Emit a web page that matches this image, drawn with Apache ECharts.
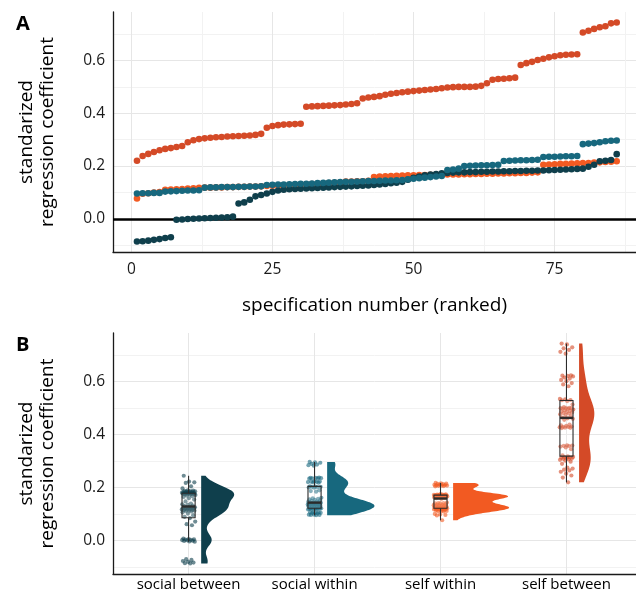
<!DOCTYPE html>
<html><head><meta charset="utf-8">
<script src="https://cdn.jsdelivr.net/npm/echarts@6/dist/echarts.min.js"></script>
<style>html,body{margin:0;padding:0;background:#fff}#c{width:636px;height:597px}</style>
</head><body><div id="c"></div>
<script>
// ---------- data ----------
const groupNames = ['social between', 'social within', 'self within', 'self between'];
const groupColors = ['#0f3f4c', '#17687e', '#f25a22', '#d44a27'];

const socialBetween = [
  -0.086, -0.085, -0.083, -0.080, -0.077, -0.073, -0.070,
  -0.004, -0.003, -0.001, 0.000, 0.001, 0.002, 0.003, 0.004, 0.005, 0.006, 0.008,
  0.058, 0.062,
  0.072, 0.085, 0.090, 0.096, 0.102, 0.107, 0.110,
  0.112, 0.113, 0.114, 0.115, 0.116, 0.117, 0.118, 0.119, 0.120, 0.121, 0.122, 0.123, 0.124,
  0.125, 0.126, 0.128, 0.130, 0.132, 0.135, 0.137, 0.140,
  0.148, 0.155, 0.160, 0.165, 0.168, 0.170, 0.172, 0.174, 0.175, 0.176,
  0.176, 0.177, 0.177, 0.178, 0.178, 0.179, 0.179, 0.180, 0.180, 0.181, 0.181, 0.182, 0.182,
  0.183, 0.183, 0.184, 0.185, 0.186, 0.187, 0.188, 0.189, 0.190,
  0.197, 0.205, 0.218, 0.220, 0.223, 0.245
];
const socialWithin = [
  0.096, 0.097, 0.097, 0.098, 0.098,
  0.103, 0.104, 0.105, 0.106, 0.107, 0.107, 0.108,
  0.118, 0.119, 0.119, 0.120, 0.120, 0.120, 0.121, 0.121, 0.122, 0.122, 0.123,
  0.128, 0.129, 0.130, 0.130, 0.131, 0.132, 0.133, 0.133, 0.134, 0.135, 0.136, 0.137, 0.138, 0.139, 0.140, 0.140, 0.141,
  0.142, 0.143, 0.143, 0.144, 0.145, 0.145, 0.146, 0.147,
  0.150, 0.152, 0.154, 0.156, 0.158, 0.160, 0.162,
  0.185, 0.187, 0.190,
  0.200, 0.201, 0.202, 0.203, 0.203, 0.204, 0.205,
  0.219, 0.220, 0.221, 0.222, 0.222, 0.223, 0.224,
  0.234, 0.235, 0.235, 0.236, 0.237, 0.237, 0.238,
  0.283, 0.285, 0.287, 0.290, 0.294, 0.296, 0.297
];
const selfWithin = [
  0.077,
  0.095, 0.097, 0.099, 0.101,
  0.110, 0.111, 0.112, 0.113, 0.115, 0.116, 0.117,
  0.118, 0.118, 0.119, 0.119, 0.120, 0.120, 0.121, 0.121, 0.122, 0.122, 0.123,
  0.124, 0.125, 0.126, 0.127, 0.128, 0.129, 0.130, 0.131, 0.132, 0.133, 0.134, 0.135, 0.136, 0.137,
  0.141,
  0.141, 0.142, 0.142,
  0.144,
  0.158, 0.160, 0.161, 0.162, 0.163, 0.164, 0.165, 0.165, 0.166, 0.166, 0.167,
  0.167, 0.167, 0.168, 0.168, 0.168, 0.169, 0.169, 0.170, 0.170, 0.171, 0.171, 0.172, 0.172,
  0.173, 0.173, 0.174, 0.174, 0.175, 0.176,
  0.205, 0.206, 0.207, 0.208, 0.208, 0.209, 0.210, 0.211, 0.211,
  0.213, 0.214, 0.215, 0.216, 0.218
];
const selfBetween = [
  0.220, 0.238, 0.246, 0.253, 0.260, 0.265, 0.268, 0.272, 0.276, 0.290,
  0.298, 0.302, 0.305, 0.307, 0.309, 0.310, 0.312, 0.313, 0.314, 0.315,
  0.316, 0.318, 0.322, 0.345, 0.352, 0.355, 0.357, 0.358, 0.359, 0.360,
  0.425, 0.426, 0.427, 0.428, 0.429, 0.430, 0.431, 0.433, 0.435, 0.438,
  0.456, 0.460, 0.462, 0.465, 0.470, 0.474, 0.477, 0.480, 0.482, 0.484,
  0.486, 0.488, 0.490, 0.492, 0.495, 0.498, 0.499, 0.500, 0.500, 0.500,
  0.501, 0.504, 0.514, 0.527, 0.530, 0.531, 0.533, 0.535, 0.583, 0.590,
  0.595, 0.602, 0.607, 0.612, 0.616, 0.620, 0.622, 0.623, 0.624, 0.706,
  0.713, 0.720, 0.726, 0.730, 0.741, 0.744
];
const groupData = [socialBetween, socialWithin, selfWithin, selfBetween];

const yLabelValues = [0, 0.2, 0.4, 0.6];
const yGridValues = [-0.1, 0, 0.1, 0.2, 0.3, 0.4, 0.5, 0.6, 0.7];
const xLabelValues = [0, 25, 50, 75];
const xGridValues = [0, 12.5, 25, 37.5, 50, 62.5, 75, 87.5];
const catValues = [1, 2, 3, 4];

// ---------- helpers ----------
const FONT = '"Open Sans", "Noto Sans", sans-serif';
function quantile(s, p) {
  const h = (s.length - 1) * p, lo = Math.floor(h), hi = Math.min(lo + 1, s.length - 1);
  return s[lo] + (h - lo) * (s[hi] - s[lo]);
}
function stats(vals) {
  const s = vals.slice().sort((a, b) => a - b);
  const q1 = quantile(s, 0.25), med = quantile(s, 0.5), q3 = quantile(s, 0.75);
  const iqr = q3 - q1;
  const lo = s.filter(v => v >= q1 - 1.5 * iqr)[0];
  const hiArr = s.filter(v => v <= q3 + 1.5 * iqr);
  const hi = hiArr[hiArr.length - 1];
  const n = s.length, mean = s.reduce((a, b) => a + b, 0) / n;
  const sd = Math.sqrt(s.reduce((a, b) => a + (b - mean) * (b - mean), 0) / (n - 1));
  const bw = 0.9 * Math.min(sd, iqr / 1.34) * Math.pow(n, -0.2);
  const min = s[0], max = s[n - 1];
  const dens = [];
  const steps = 120;
  for (let k = 0; k <= steps; k++) {
    const y = min + (max - min) * k / steps;
    let d = 0;
    for (const v of s) { const z = (y - v) / bw; d += Math.exp(-0.5 * z * z); }
    d = d / (n * bw * Math.sqrt(2 * Math.PI));
    dens.push([y, d]);
  }
  return { q1, med, q3, lo, hi, min, max, dens };
}
const groupStats = groupData.map(stats);
const maxDens = Math.max(...groupStats.map(st => Math.max(...st.dens.map(d => d[1]))));
const VIOLIN_W = 0.445, VIOLIN_OFF = 0.1, BOX_HW = 0.052, JIT = 0.11;
function jitter(i) { return (((i + 1) * 0.6180339887) % 1 - 0.5) * JIT; }

// ---------- series ----------
const series = [];
const drawOrder = [2, 0, 1, 3];
drawOrder.forEach((g, k) => {
  const s = {
    type: 'scatter', xAxisIndex: 0, yAxisIndex: 0, name: groupNames[g],
    symbolSize: 6.6, itemStyle: { color: groupColors[g], opacity: 1 },
    data: groupData[g].map((v, i) => [i + 1, v]), z: 3 + k, silent: true
  };
  if (k === 0) {
    s.markLine = { silent: true, symbol: 'none', label: { show: false },
      lineStyle: { color: '#000', width: 2.6, type: 'solid' }, data: [{ yAxis: 0 }], z: 2 };
  }
  series.push(s);
});

// violins
series.push({
  type: 'custom', xAxisIndex: 1, yAxisIndex: 1, z: 2, silent: true,
  data: groupNames.map((n, g) => [g + 1, groupStats[g].med]),
  encode: { x: 0, y: 1 },
  renderItem: function (params, api) {
    const g = params.dataIndex, st = groupStats[g];
    const base = g + 1 + VIOLIN_OFF;
    const pts = [api.coord([base, st.min])];
    st.dens.forEach(([y, d]) => pts.push(api.coord([base + d / maxDens * VIOLIN_W, y])));
    pts.push(api.coord([base, st.max]));
    return { type: 'polygon', shape: { points: pts }, style: { fill: groupColors[g], stroke: null } };
  }
});
// jittered points
groupData.forEach((vals, g) => {
  series.push({
    type: 'scatter', xAxisIndex: 1, yAxisIndex: 1, z: 3, silent: true,
    symbolSize: 4.2, itemStyle: { color: groupColors[g], opacity: 0.6 },
    data: vals.map((v, i) => [g + 1 + jitter(i), v])
  });
});
// boxplots
series.push({
  type: 'custom', xAxisIndex: 1, yAxisIndex: 1, z: 5, silent: true,
  data: groupNames.map((n, g) => [g + 1, groupStats[g].med]),
  encode: { x: 0, y: 1 },
  renderItem: function (params, api) {
    const g = params.dataIndex, st = groupStats[g], c = g + 1;
    const stroke = '#2b2b2b';
    const p = (x, y) => api.coord([x, y]);
    return { type: 'group', children: [
      { type: 'line', shape: { x1: p(c, st.lo)[0], y1: p(c, st.lo)[1], x2: p(c, st.q1)[0], y2: p(c, st.q1)[1] }, style: { stroke, lineWidth: 1.1 } },
      { type: 'line', shape: { x1: p(c, st.q3)[0], y1: p(c, st.q3)[1], x2: p(c, st.hi)[0], y2: p(c, st.hi)[1] }, style: { stroke, lineWidth: 1.1 } },
      { type: 'polygon', shape: { points: [p(c - BOX_HW, st.q1), p(c + BOX_HW, st.q1), p(c + BOX_HW, st.q3), p(c - BOX_HW, st.q3)] }, style: { fill: 'rgba(255,255,255,0.15)', stroke, lineWidth: 1.1 } },
      { type: 'line', shape: { x1: p(c - BOX_HW, st.med)[0], y1: p(c, st.med)[1], x2: p(c + BOX_HW, st.med)[0], y2: p(c, st.med)[1] }, style: { stroke, lineWidth: 2.4 } }
    ] };
  }
});

const axisLineStyle = { show: true, onZero: false, lineStyle: { color: '#1a1a1a', width: 1.3 } };
const gridColorsY = ['#f2f2f2', '#e6e6e6'];
const gridColorsX = ['#e6e6e6', '#f2f2f2'];
const yAxisBase = (gi) => ({
  type: 'value', gridIndex: gi, min: -0.126, max: 0.784,
  axisLine: axisLineStyle,
  axisTick: { show: false, customValues: yGridValues },
  axisLabel: { customValues: yLabelValues, formatter: v => v.toFixed(1), color: '#1a1a1a', fontSize: 15.5, margin: 8, fontFamily: FONT },
  splitLine: { show: true, lineStyle: { color: gridColorsY, width: 1 } },
  name: 'standarized\nregression coefficient', nameLocation: 'middle', nameRotate: 90, nameGap: 55,
  nameTextStyle: { fontSize: 19, lineHeight: 21, color: '#000', fontFamily: FONT }
});

const option = {
  animation: false,
  backgroundColor: '#fff',
  title: [
    { text: 'A', left: 11, top: 9, textStyle: { fontSize: 20, fontWeight: 'bold', color: '#000', fontFamily: FONT } },
    { text: 'B', left: 11, top: 330, textStyle: { fontSize: 20, fontWeight: 'bold', color: '#000', fontFamily: FONT } }
  ],
  grid: [
    { left: 113, right: 0, top: 12, height: 240 },
    { left: 113, right: 0, top: 333, height: 241 }
  ],
  xAxis: [
    { type: 'value', gridIndex: 0, min: -3.25, max: 89.42,
      axisLine: axisLineStyle,
      axisTick: { show: false, customValues: xGridValues },
      axisLabel: { customValues: xLabelValues, color: '#1a1a1a', fontSize: 15.5, margin: 10, fontFamily: FONT },
      splitLine: { show: true, lineStyle: { color: gridColorsX, width: 1 } },
      name: 'specification number (ranked)', nameLocation: 'middle', nameGap: 44,
      nameTextStyle: { fontSize: 19, color: '#000', fontFamily: FONT } },
    { type: 'value', gridIndex: 1, min: 0.4, max: 4.552,
      axisLine: axisLineStyle,
      axisTick: { show: false, customValues: catValues },
      axisLabel: { customValues: catValues, formatter: v => groupNames[Math.round(v) - 1], color: '#000', fontSize: 15, margin: 3, fontFamily: FONT },
      splitLine: { show: true, lineStyle: { color: '#e6e6e6', width: 1 } } }
  ],
  yAxis: [yAxisBase(0), yAxisBase(1)],
  series
};
const chart = echarts.init(document.getElementById('c'), null, { renderer: 'canvas' });
chart.setOption(option);
</script>
</body></html>
